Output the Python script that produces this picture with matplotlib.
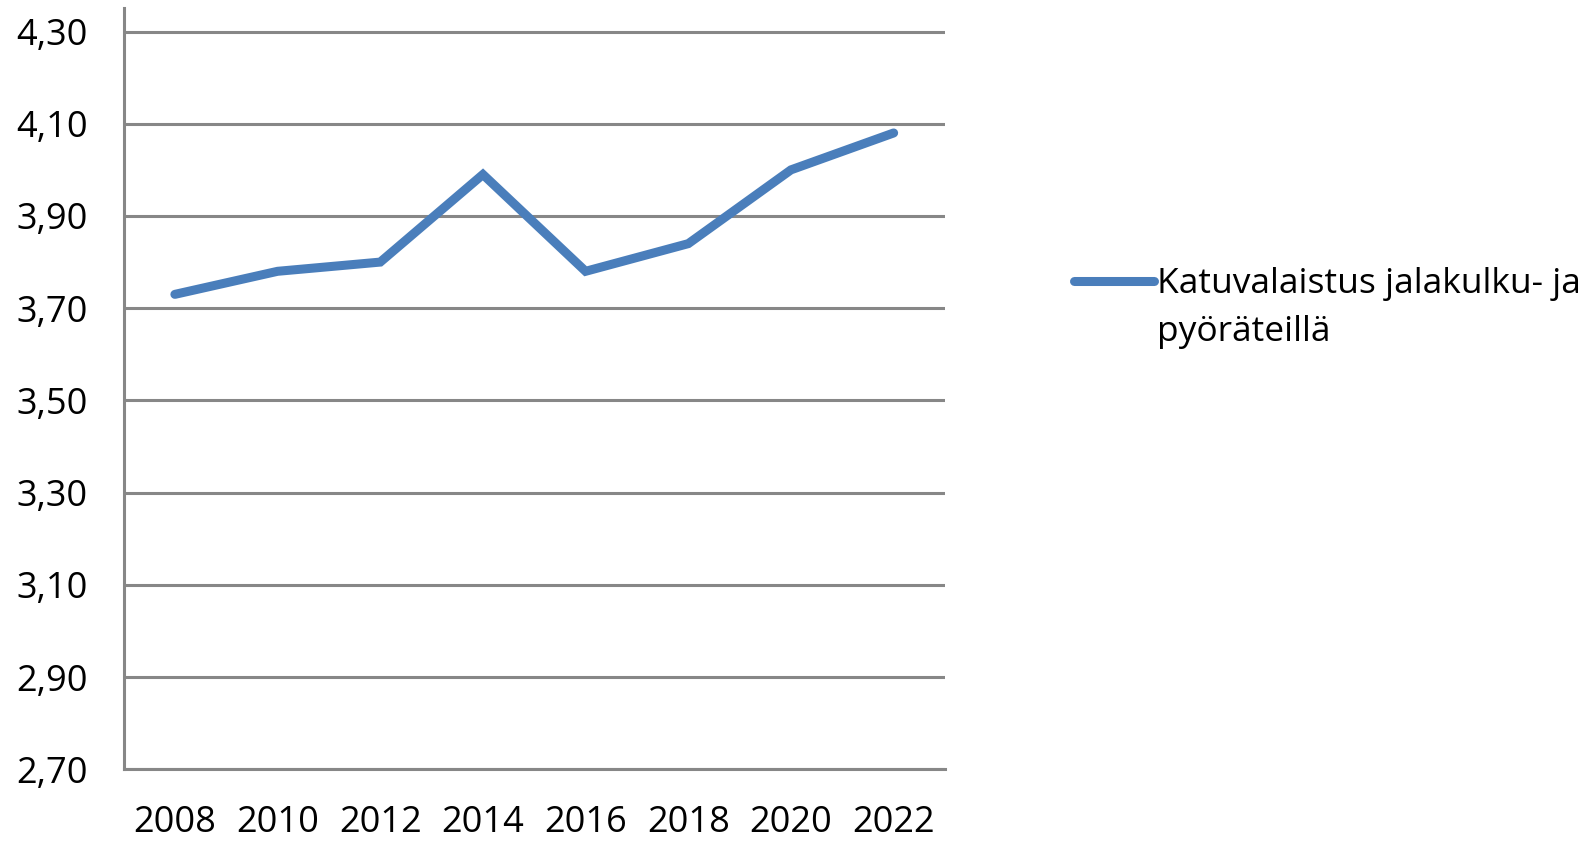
import numpy as np
import matplotlib
matplotlib.use('Agg')
import matplotlib.pyplot as plt

years = ['2008', '2010', '2012', '2014', '2016', '2018', '2020', '2022']
values = [3.73, 3.78, 3.80, 3.99, 3.78, 3.84, 4.00, 4.08]
series_name = ['Katuvalaistus jalakulku- ja', 'pyöräteillä']
yticks = [2.70, 2.90, 3.10, 3.30, 3.50, 3.70, 3.90, 4.10, 4.30]

plt.rcParams['font.family'] = ['Open Sans', 'DejaVu Sans']
W, H = 1596, 842

fig = plt.figure(figsize=(W / 100, H / 100), dpi=100)
ax = fig.add_axes([0.0774, 0.0863, 0.5147, 0.9042])

x = np.arange(len(years))
line, = ax.plot(x, values, color='#4a7ebb', lw=6.5, solid_capstyle='round',
                solid_joinstyle='miter', zorder=3)

ax.set_xlim(-0.5, len(years) - 0.5)
ax.set_ylim(2.70, 4.351)
ax.set_xticks(x)
ax.set_xticklabels(years)
ax.set_yticks(yticks)
ax.set_yticklabels([f'{v:.2f}'.replace('.', ',') for v in yticks])
ax.tick_params(axis='both', length=0, labelsize=26, colors='black')
ax.tick_params(axis='y', pad=26)
ax.tick_params(axis='x', pad=26)

ax.grid(axis='y', color='#878787', lw=2.2)
ax.set_axisbelow(True)
for s in ['top', 'right']:
    ax.spines[s].set_visible(False)
for s in ['left', 'bottom']:
    ax.spines[s].set_color('#878787')
    ax.spines[s].set_linewidth(2.2)

# legend: handle lines up with the first text row, second row wraps below
leg = fig.legend([line], [series_name[0]], loc='center left',
                 bbox_to_anchor=(1074 / W, 1 - 284 / H),
                 frameon=False, fontsize=25.5, handlelength=2.25,
                 handletextpad=0.1, borderpad=0, borderaxespad=0)
fig.canvas.draw()
bb = leg.get_texts()[0].get_window_extent()
fig.text(bb.x0 / W, 1 - 341 / H, series_name[1], fontsize=25.5,
         ha='left', va='baseline')

fig.savefig('out.png', dpi=100)
